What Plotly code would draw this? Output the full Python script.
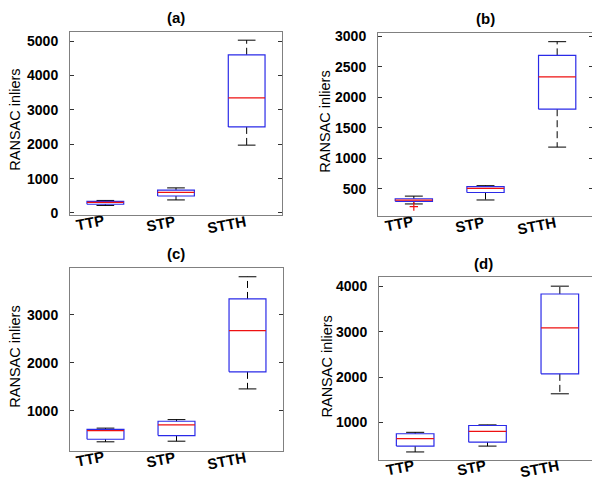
import plotly.graph_objects as go

categories = ["TTP", "STP", "STTH"]
positions = [1, 2, 3]

# Panel (a)
a_low = [220, 380, 1975]
a_q1 = [255, 495, 2505]
a_med = [310, 600, 3350]
a_q3 = [340, 665, 4605]
a_high = [365, 730, 5030]
a_out = [[], [], []]

# Panel (b)
b_low = [255, 320, 1185]
b_q1 = [298, 442, 1805]
b_med = [319, 511, 2333]
b_q3 = [340, 538, 2686]
b_high = [383, 554, 2910]
b_out = [[212], [], []]

# Panel (c)
c_low = [354, 367, 1455]
c_q1 = [408, 483, 1810]
c_med = [585, 707, 2667]
c_q3 = [612, 782, 3327]
c_high = [639, 816, 3789]
c_out = [[], [], []]

# Panel (d)
d_low = [351, 480, 1634]
d_q1 = [480, 567, 2074]
d_med = [645, 805, 3091]
d_q3 = [753, 935, 3836]
d_high = [784, 948, 4009]
d_out = [[], [], []]

panels = [
    ("(a)", a_low, a_q1, a_med, a_q3, a_high, a_out),
    ("(b)", b_low, b_q1, b_med, b_q3, b_high, b_out),
    ("(c)", c_low, c_q1, c_med, c_q3, c_high, c_out),
    ("(d)", d_low, d_q1, d_med, d_q3, d_high, d_out),
]

yranges = [[-50, 5280], [63, 3059], [169, 3980], [184, 4203]]
ytickvals = [
    [0, 1000, 2000, 3000, 4000, 5000],
    [500, 1000, 1500, 2000, 2500, 3000],
    [1000, 2000, 3000],
    [1000, 2000, 3000, 4000],
]

# Page geometry: the html body has an 8px margin, so the figure is offset
OFF = 8
W, H = 600 - OFF, 490 - OFF


def fx(px):
    return (px - OFF) / W


def fy(py):
    return 1 - (py - OFF) / H


# plot-area boxes in target-window pixels: (left, right, top, bottom)
boxes = [(70, 282, 28, 215), (378, 593, 29, 216), (70, 283, 269, 456), (379, 596, 279, 465)]
title_pos = [(176, 14), (485, 15), (176, 255), (483, 265)]
ytitle_pos = [(15, 118), (325, 120), (15, 360), (327, 370)]

HW = 0.26   # half box width
CW = 0.125  # half cap width

fig = go.Figure()
annotations = []
layout_axes = {}
bold = dict(family="Liberation Sans", color="black", weight="bold")

for k, (title, low, q1, med, q3, high, out) in enumerate(panels):
    xa = "x" if k == 0 else f"x{k+1}"
    ya = "y" if k == 0 else f"y{k+1}"
    bx, by, mx, my, wx, wy, cx, cy, ox, oy = [], [], [], [], [], [], [], [], [], []
    for i, p in enumerate(positions):
        bx += [p - HW, p + HW, p + HW, p - HW, p - HW, None]
        by += [q1[i], q1[i], q3[i], q3[i], q1[i], None]
        mx += [p - HW, p + HW, None]
        my += [med[i], med[i], None]
        wx += [p, p, None, p, p, None]
        wy += [q3[i], high[i], None, q1[i], low[i], None]
        cx += [p - CW, p + CW, None, p - CW, p + CW, None]
        cy += [high[i], high[i], None, low[i], low[i], None]
        for v in out[i]:
            ox.append(p)
            oy.append(v)
    common = dict(xaxis=xa, yaxis=ya, mode="lines", hoverinfo="skip", showlegend=False)
    fig.add_trace(go.Scatter(x=wx, y=wy, line=dict(color="black", width=1, dash="7px,4px"), **common))
    fig.add_trace(go.Scatter(x=cx, y=cy, line=dict(color="black", width=1), **common))
    fig.add_trace(go.Scatter(x=bx, y=by, line=dict(color="#2a2ae8", width=1.2), **common))
    fig.add_trace(go.Scatter(x=mx, y=my, line=dict(color="#ee1111", width=1.2), **common))
    if ox:
        fig.add_trace(go.Scatter(x=ox, y=oy, xaxis=xa, yaxis=ya, mode="markers",
                                 marker=dict(symbol="cross-thin", size=6,
                                             line=dict(color="#ee1111", width=1.2)),
                                 showlegend=False, hoverinfo="skip"))

    L, R, T, B = boxes[k]
    xkey = "xaxis" if k == 0 else f"xaxis{k+1}"
    ykey = "yaxis" if k == 0 else f"yaxis{k+1}"
    layout_axes[xkey] = dict(
        domain=[fx(L), fx(R)], anchor=ya, range=[0.5, 3.5],
        tickvals=positions, showticklabels=False,
        showline=True, linecolor="#808080", linewidth=1, mirror=True,
        showgrid=False, zeroline=False, ticks="",
    )
    layout_axes[ykey] = dict(
        domain=[fy(B), fy(T)], anchor=xa, range=yranges[k],
        tickvals=ytickvals[k], ticks="inside", ticklen=4, tickcolor="#333333",
        showline=True, linecolor="#808080", linewidth=1, mirror="ticks",
        showgrid=False, zeroline=False, ticklabelstandoff=8,
        tickfont=dict(size=14, **bold),
    )
    # rotated category labels, right-aligned at each category position
    for i, p in enumerate(positions):
        annotations.append(dict(text=categories[i], x=p + 0.02, y=fy(B - 4), xref=xa, yref="paper",
                                showarrow=False, xanchor="right", yanchor="top", textangle=-11,
                                borderpad=0, font=dict(size=15, **bold)))
    tx, ty = title_pos[k]
    annotations.append(dict(text=title, x=fx(tx), y=fy(ty), xref="paper", yref="paper",
                            showarrow=False, xanchor="center", yanchor="middle",
                            font=dict(size=15, **bold)))
    yx, yy = ytitle_pos[k]
    annotations.append(dict(text="RANSAC inliers", x=fx(yx), y=fy(yy), xref="paper", yref="paper",
                            showarrow=False, xanchor="center", yanchor="middle", textangle=-90,
                            font=dict(family="Liberation Sans", size=14.5, color="black")))

fig.update_layout(
    width=W, height=H,
    margin=dict(l=0, r=0, t=0, b=0),
    plot_bgcolor="white", paper_bgcolor="white",
    showlegend=False,
    annotations=annotations,
    **layout_axes,
)

fig.write_html("out.html")
